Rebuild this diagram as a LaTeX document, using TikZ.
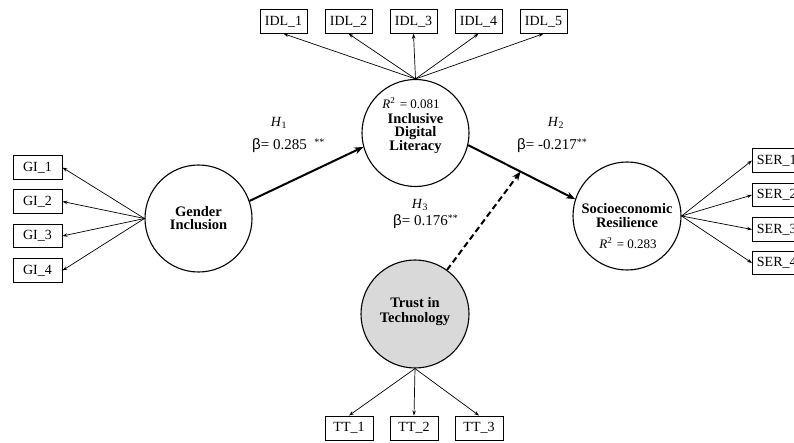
\documentclass[tikz,border=0pt]{standalone}
\usepackage{fontspec}
\setmainfont{Liberation Serif}
\newfontfamily\sansb{Liberation Sans}
\usetikzlibrary{arrows.meta}
\begin{document}
\begin{tikzpicture}[x=1pt,y=-1pt,
 lv/.style={circle,draw,line width=1.1pt,minimum size=107pt,inner sep=0pt},
 ind/.style={draw,line width=0.9pt,minimum height=23.5pt,minimum width=47pt,inner sep=0pt,font=\fontsize{14}{14}\selectfont},
 ld/.style={-{Stealth[length=5pt,width=3.5pt]},line width=0.7pt},
 mainpath/.style={-{Stealth[length=9pt,width=7pt]},line width=2pt},
 lt/.style={align=center,font=\fontsize{14.5}{13.5}\selectfont\bfseries,inner sep=0pt},
 rsq/.style={font=\fontsize{13}{13}\selectfont,inner sep=0pt},
 hyp/.style={font=\fontsize{14}{14}\selectfont,inner sep=0pt},
 beta/.style={font=\fontsize{15}{15}\selectfont,inner sep=0pt}
]
\useasboundingbox (0,0) rectangle (794,443);
\clip (0,0) rectangle (794,443);

% latent variables
\node[lv] (gi) at (198.5,218.5) {};
\node[lv] (idl) at (415.5,133) {};
\node[lv,minimum size=108pt] (ser) at (627,216) {};
\node[lv,minimum size=108pt,fill={rgb,255:red,217;green,217;blue,217}] (tt) at (415,314) {};

% texts in latent variables
\node[lt] (gitxt) at (198.5,218) {Gender\\Inclusion};
\node[rsq] (idlr) at (411,103) {\textit{R}\textsuperscript{2}\,\,= 0.081};
\node[lt] (idltxt) at (415.5,133.5) {Inclusive\\Digital\\Literacy};
\node[lt] (sertxt) at (627,215.5) {Socioeconomic\\Resilience};
\node[rsq] (serr) at (628,243) {\textit{R}\textsuperscript{2}\,\,= 0.283};
\node[lt,font=\fontsize{14.5}{14.5}\selectfont\bfseries] (tttxt) at (415,311.5) {Trust in\\Technology};

% indicators
\node[ind] (idl1) at (283.5,21.5) {IDL\_1};
\node[ind] (idl2) at (348.5,21.5) {IDL\_2};
\node[ind] (idl3) at (413.5,21.5) {IDL\_3};
\node[ind] (idl4) at (478.5,21.5) {IDL\_4};
\node[ind] (idl5) at (543.5,21.5) {IDL\_5};

\node[ind,minimum width=49pt] (gi1) at (37.5,167.5) {GI\_1};
\node[ind,minimum width=49pt] (gi2) at (37.5,201.5) {GI\_2};
\node[ind,minimum width=49pt] (gi3) at (37.5,236) {GI\_3};
\node[ind,minimum width=49pt] (gi4) at (37.5,270.5) {GI\_4};

\node[ind,minimum width=0pt,inner xsep=4.5pt,anchor=west] (ser1) at (752,160.5) {SER\_1};
\node[ind,minimum width=0pt,inner xsep=4.5pt,anchor=west] (ser2) at (752,195) {SER\_2};
\node[ind,minimum width=0pt,inner xsep=4.5pt,anchor=west] (ser3) at (752,229.5) {SER\_3};
\node[ind,minimum width=0pt,inner xsep=4.5pt,anchor=west] (ser4) at (752,263) {SER\_4};

\node[ind,minimum width=48pt,minimum height=24pt] (tt1) at (349,428) {TT\_1};
\node[ind,minimum width=48pt,minimum height=24pt] (tt2) at (414,428) {TT\_2};
\node[ind,minimum width=48pt,minimum height=24pt] (tt3) at (479,428) {TT\_3};

% loadings
\foreach \i in {1,...,5} \draw[ld] (idl.north) -- (idl\i.south);
\foreach \i in {1,...,4} \draw[ld] (gi.west) -- (gi\i.east);
\foreach \i in {1,...,4} \draw[ld] (ser.east) -- (ser\i.west);
\foreach \i in {1,...,3} \draw[ld] (tt.south) -- (tt\i.north);

% structural paths
\draw[mainpath] (gi.19) -- (idl.195);
\draw[mainpath] (idl.-13) -- coordinate[pos=0.49] (mid) (ser.162);
\draw[-{Stealth[length=9pt,width=7pt]},line width=2pt,dash pattern=on 6pt off 3.5pt] (tt.54) -- (mid);

% path labels
\node[hyp] (h1) at (279,123) {\textit{H}\textsubscript{1}};
\node[beta,anchor=west] (b1) at (252,146) {{\sansb β}= 0.285\,\,\,\raisebox{4pt}{\fontsize{10}{10}\selectfont **}};
\node[hyp] (h2) at (556,123) {\textit{H}\textsubscript{2}};
\node[beta,anchor=west] (b2) at (517,146) {{\sansb β}= -0.217\raisebox{4pt}{\fontsize{10}{10}\selectfont **}};
\node[hyp] (h3) at (420,205) {\textit{H}\textsubscript{3}};
\node[beta,anchor=west] (b3) at (393,222) {{\sansb β}= 0.176\raisebox{4pt}{\fontsize{10}{10}\selectfont **}};
\end{tikzpicture}
\end{document}
